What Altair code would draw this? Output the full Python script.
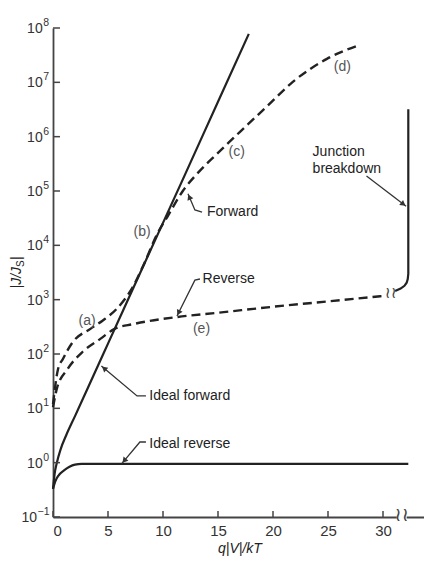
import math
import altair as alt
import pandas as pd

# ---------------- data ----------------
x_ticks = [0, 5, 10, 15, 20, 25, 30]
y_ticks = [0.1, 1, 10, 100, 1e3, 1e4, 1e5, 1e6, 1e7, 1e8]
y_tick_base = ["10"] * 10
y_tick_exp = ["−1", "0", "1", "2", "3", "4", "5", "6", "7", "8"]

ideal_fwd_x = [0, 0.15, 0.35, 0.7, 1.2, 2, 3, 5, 8.5, 12, 15, 17.8]
ideal_fwd_y = [0.33, 0.63, 1.0, 1.78, 3.2, 7.2, 20, 155, 5600, 2.0e5, 4.4e6, 7.8e7]

ideal_rev_x = [0, 0.2, 0.5, 1.0, 1.5, 2.0, 2.6, 32.3]
ideal_rev_y = [0.33, 0.45, 0.58, 0.72, 0.84, 0.92, 0.95, 0.95]

fwd_x = [0, 0.45, 0.9, 1.8, 3.4, 4.5, 5.8, 7.3, 8.2, 9.5, 10.45, 11.8, 13.3, 14.9, 17.0, 19.45, 21.8, 24.9, 27.9]
fwd_y = [12, 52, 81, 166, 290, 410, 680, 1780, 4200, 16600, 35000, 1.0e5, 2.3e5, 4.8e5, 1.23e6, 3.6e6, 1.02e7, 2.7e7, 4.9e7]

rev_x = [0, 0.35, 1.3, 2.7, 4.3, 5.6, 7.3, 11.3, 15, 20, 25, 30]
rev_y = [10.5, 23, 52, 110, 190, 290, 355, 480, 575, 740, 930, 1170]

brk_x = [31.1, 31.6, 31.95, 32.15, 32.25, 32.3, 32.3]
brk_y = [1440, 1600, 1800, 2050, 2400, 3000, 3.2e6]

ann_text = ["Forward", "Reverse", "Ideal forward", "Ideal reverse", "Junction", "breakdown"]
ann_x = [14.0, 13.6, 8.75, 8.75, 23.6, 23.6]
ann_y = [4.1e4, 2400, 16.9, 2.2, 5.25e5, 2.54e5]

tag_text = ["(a)", "(b)", "(c)", "(d)", "(e)"]
tag_x = [3.1, 8.1, 16.7, 26.3, 13.5]
tag_y = [405, 17600, 5.25e5, 1.9e7, 290]

leaders = {
    "fwd": ([13.55, 12.9, 12.27], [4.1e4, 4.47e4, 8.9e4]),
    "rev": ([13.36, 12.9, 11.27], [2400, 2290, 500]),
    "ifwd": ([8.45, 7.64, 4.4], [16.9, 16.9, 60]),
    "irev": ([8.45, 7.9, 6.27], [2.4, 2.4, 0.97]),
    "junc": ([28.5, 32.1], [1.89e5, 5.25e4]),
}

# ---------------- layout helpers ----------------
W, H = 371, 489
XMAX = W / 11.0
INK = "#222222"
FONT = "Liberation Sans"


def to_px(x, y):
    return x * W / XMAX, (8 - math.log10(y)) * H / 9


def from_px(px, py):
    return px * XMAX / W, 10 ** (8 - py * 9 / H)


xs = alt.Scale(domain=[0, XMAX], nice=False, zero=False)
ys = alt.Scale(type="log", domain=[0.1, 1e8], nice=False)

xaxis = alt.Axis(values=x_ticks, title=None, grid=False, ticks=False, tickSize=0,
                 labelPadding=6, labelFontSize=15, labelFont=FONT, labelColor="#333",
                 domainColor="#444", domainWidth=1.8)
yaxis = alt.Axis(values=y_ticks, title=None, grid=False, ticks=False, tickSize=0,
                 labels=False, domainColor="#444", domainWidth=1.8)


def X(f="x"):
    return alt.X(f"{f}:Q", scale=xs, axis=xaxis)


def Y(f="y"):
    return alt.Y(f"{f}:Q", scale=ys, axis=yaxis)


def line_df(xv, yv):
    return pd.DataFrame({"x": xv, "y": yv, "o": list(range(len(xv)))})


layers = []

# curves
layers.append(alt.Chart(line_df(ideal_fwd_x, ideal_fwd_y)).mark_line(
    color=INK, strokeWidth=2.2, interpolate="monotone").encode(x=X(), y=Y(), order="o:Q"))
layers.append(alt.Chart(line_df(ideal_rev_x, ideal_rev_y)).mark_line(
    color=INK, strokeWidth=2.2, interpolate="monotone").encode(x=X(), y=Y(), order="o:Q"))
layers.append(alt.Chart(line_df(fwd_x, fwd_y)).mark_line(
    color=INK, strokeWidth=2.4, strokeDash=[9, 5], interpolate="monotone").encode(x=X(), y=Y(), order="o:Q"))
layers.append(alt.Chart(line_df(rev_x, rev_y)).mark_line(
    color=INK, strokeWidth=2.4, strokeDash=[9, 5], interpolate="monotone").encode(x=X(), y=Y(), order="o:Q"))
layers.append(alt.Chart(line_df(brk_x, brk_y)).mark_line(
    color=INK, strokeWidth=2.2).encode(x=X(), y=Y(), order="o:Q"))

# inward ticks
layers.append(alt.Chart(pd.DataFrame({"x": x_ticks})).mark_rule(color="#444", strokeWidth=1.5).encode(
    x=X(), y=alt.value(H), y2=alt.value(H - 6)))
layers.append(alt.Chart(pd.DataFrame({"y": y_ticks})).mark_rule(color="#444", strokeWidth=1.5).encode(
    y=Y(), x=alt.value(0), x2=alt.value(7)))

# y tick labels: base and superscript exponent
exp_w = [11.5 if len(e) > 1 else 5.8 for e in y_tick_exp]
ylab = pd.DataFrame({"y": y_ticks, "b": y_tick_base, "e": y_tick_exp,
                     "bx": [-4.5 - w for w in exp_w], "ex": [-4 - w for w in exp_w]})
layers.append(alt.Chart(ylab).mark_text(
    font=FONT, fontSize=14, color="#333", align="right", baseline="middle", dy=1).encode(
    y=Y(), x=alt.X("bx:Q", scale=None), text="b:N"))
layers.append(alt.Chart(ylab).mark_text(
    font=FONT, fontSize=10.5, color="#333", align="left", baseline="middle", dy=-5).encode(
    y=Y(), x=alt.X("ex:Q", scale=None), text="e:N"))

# axis break
layers.append(alt.Chart(pd.DataFrame({"x": [31.25], "x2": [32.15]})).mark_rule(
    color="white", strokeWidth=6).encode(x=X(), x2="x2:Q", y=alt.value(H)))
layers.append(alt.Chart(pd.DataFrame({"x": [31.7], "t": ["≀≀"]})).mark_text(
    font="DejaVu Sans", fontSize=19, color="#444", baseline="middle").encode(
    x=X(), y=alt.value(H - 2), text="t:N"))
layers.append(alt.Chart(pd.DataFrame({"x": [30.7], "y": [1330], "t": ["≀≀"]})).mark_text(
    font="DejaVu Sans", fontSize=16, color="#444", baseline="middle").encode(
    x=X(), y=Y(), text="t:N"))

# leader lines
rows = []
heads = []
for k, (lx, ly) in leaders.items():
    for i, (a, b) in enumerate(zip(lx, ly)):
        rows.append({"id": k, "o": i, "x": a, "y": b})
    p0 = to_px(lx[-2], ly[-2])
    p1 = to_px(lx[-1], ly[-1])
    dx, dy = p1[0] - p0[0], p1[1] - p0[1]
    d = math.hypot(dx, dy)
    ang = math.degrees(math.atan2(dx, -dy)) % 360
    cx, cy = p1[0] - 3.5 * dx / d, p1[1] - 3.5 * dy / d
    hx, hy = from_px(cx, cy)
    heads.append({"x": hx, "y": hy, "a": ang})

layers.append(alt.Chart(pd.DataFrame(rows)).mark_line(color="#333", strokeWidth=1.3).encode(
    x=X(), y=Y(), detail="id:N", order="o:Q"))
layers.append(alt.Chart(pd.DataFrame(heads)).mark_point(
    shape="triangle-up", filled=True, size=40, color="#333", opacity=1).encode(
    x=X(), y=Y(), angle=alt.Angle("a:Q", scale=None)))

# annotation text
layers.append(alt.Chart(pd.DataFrame({"x": ann_x, "y": ann_y, "t": ann_text})).mark_text(
    font=FONT, fontSize=14, color="#222", align="left", baseline="middle").encode(
    x=X(), y=Y(), text="t:N"))
layers.append(alt.Chart(pd.DataFrame({"x": tag_x, "y": tag_y, "t": tag_text})).mark_text(
    font=FONT, fontSize=14, color="#555", align="center", baseline="middle").encode(
    x=X(), y=Y(), text="t:N"))

# axis titles
layers.append(alt.Chart(pd.DataFrame({"t": ["q|V|/kT"]})).mark_text(
    font=FONT, fontSize=14, fontStyle="italic", color="#222", baseline="middle").encode(
    x=alt.value(187), y=alt.value(H + 32), text="t:N"))
layers.append(alt.Chart(pd.DataFrame({"t": ["|J/J"]})).mark_text(
    font=FONT, fontSize=14, fontStyle="italic", color="#222", angle=270, align="left", baseline="middle").encode(
    x=alt.value(-36), y=alt.value(H / 2 + 16), text="t:N"))
layers.append(alt.Chart(pd.DataFrame({"t": ["S"]})).mark_text(
    font=FONT, fontSize=10, color="#222", angle=270, align="left", baseline="middle").encode(
    x=alt.value(-32), y=alt.value(H / 2 - 5.5), text="t:N"))
layers.append(alt.Chart(pd.DataFrame({"t": ["|"]})).mark_text(
    font=FONT, fontSize=14, color="#222", angle=270, align="left", baseline="middle").encode(
    x=alt.value(-36), y=alt.value(H / 2 - 12.5), text="t:N"))

chart = alt.layer(*layers).properties(
    width=W, height=H, autosize="none",
    padding={"left": 45, "top": 20, "right": 0, "bottom": 39},
).configure_view(stroke=None)

chart.save("out.html", embed_options={"renderer": "svg", "actions": False})
